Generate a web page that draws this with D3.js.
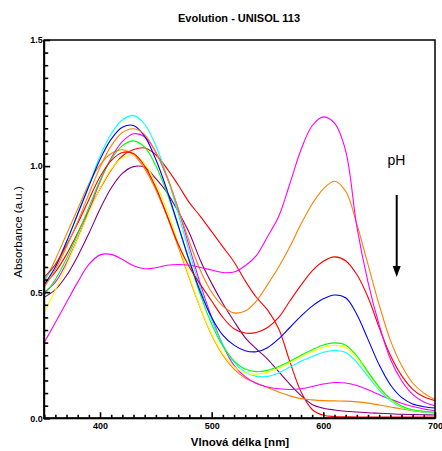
<!DOCTYPE html>
<html>
<head>
<meta charset="utf-8">
<script src="https://cdn.jsdelivr.net/npm/d3@7"></script>
<style>
  html, body { margin: 0; padding: 0; background: #fff; }
  svg { display: block; font-family: "Liberation Sans", Arial, sans-serif; }
</style>
</head>
<body>
<svg id="chart" width="442" height="451"></svg>
<script>
// wavelengths (nm)
const wavelengths = [350, 360, 370, 380, 390, 400, 410, 420, 430, 440, 450, 460, 470, 480, 490, 500, 510, 520,
                     530, 540, 550, 560, 570, 580, 590, 600, 610, 620, 630, 640, 650, 660, 670, 680, 690, 700];

// absorbance, one array per spectrum
const magentaHigh = [0.30, 0.38, 0.46, 0.54, 0.61, 0.648, 0.65, 0.63, 0.605, 0.593, 0.597, 0.607, 0.61, 0.607, 0.598, 0.588, 0.578, 0.58,
                     0.605, 0.645, 0.72, 0.80, 0.93, 1.065, 1.16, 1.195, 1.17, 1.06, 0.76, 0.54, 0.37, 0.235, 0.15, 0.095, 0.065, 0.05];
const orangeHigh = [0.52, 0.59, 0.68, 0.78, 0.89, 0.995, 1.08, 1.133, 1.148, 1.125, 1.055, 0.96, 0.832, 0.70, 0.585, 0.50, 0.445, 0.418,
                    0.425, 0.465, 0.53, 0.60, 0.68, 0.77, 0.85, 0.91, 0.94, 0.90, 0.77, 0.61, 0.45, 0.31, 0.21, 0.14, 0.10, 0.075];
const redMid = [0.56, 0.61, 0.686, 0.773, 0.867, 0.958, 1.022, 1.054, 1.05, 1.0, 0.915, 0.805, 0.69, 0.60, 0.53, 0.465, 0.40, 0.355,
                0.338, 0.34, 0.36, 0.40, 0.465, 0.528, 0.585, 0.623, 0.64, 0.625, 0.57, 0.48, 0.36, 0.25, 0.17, 0.115, 0.085, 0.07];
const blue = [0.53, 0.60, 0.70, 0.81, 0.92, 1.026, 1.107, 1.154, 1.161, 1.118, 1.026, 0.905, 0.765, 0.625, 0.50, 0.40, 0.33, 0.29,
              0.268, 0.264, 0.28, 0.315, 0.36, 0.405, 0.445, 0.474, 0.489, 0.478, 0.412, 0.313, 0.212, 0.133, 0.083, 0.057, 0.046, 0.041];
const green = [0.49, 0.55, 0.633, 0.73, 0.836, 0.943, 1.027, 1.081, 1.10, 1.075, 1.001, 0.893, 0.761, 0.62, 0.488, 0.373, 0.287, 0.228,
               0.195, 0.185, 0.19, 0.205, 0.226, 0.25, 0.272, 0.291, 0.299, 0.29, 0.247, 0.184, 0.124, 0.078, 0.049, 0.034, 0.028, 0.025];
const yellow = [0.42, 0.508, 0.607, 0.709, 0.815, 0.912, 0.988, 1.033, 1.043, 1.01, 0.931, 0.824, 0.694, 0.562, 0.438, 0.334, 0.256, 0.205,
                0.18, 0.175, 0.182, 0.198, 0.22, 0.244, 0.264, 0.281, 0.289, 0.28, 0.238, 0.178, 0.12, 0.075, 0.047, 0.033, 0.027, 0.025];
const cyan = [0.55, 0.61, 0.70, 0.81, 0.924, 1.039, 1.128, 1.183, 1.20, 1.166, 1.081, 0.96, 0.812, 0.659, 0.514, 0.39, 0.292, 0.223,
              0.183, 0.166, 0.166, 0.18, 0.203, 0.226, 0.245, 0.262, 0.269, 0.261, 0.222, 0.166, 0.112, 0.07, 0.044, 0.031, 0.025, 0.023];
const magentaLow = [0.50, 0.54, 0.617, 0.713, 0.823, 0.938, 1.032, 1.097, 1.128, 1.116, 1.055, 0.955, 0.83, 0.68, 0.53, 0.40, 0.29, 0.21,
                    0.165, 0.138, 0.124, 0.117, 0.114, 0.117, 0.126, 0.136, 0.142, 0.14, 0.13, 0.113, 0.094, 0.076, 0.06, 0.047, 0.037, 0.03];
const orangeLow = [0.54, 0.63, 0.73, 0.83, 0.93, 1.005, 1.05, 1.065, 1.045, 0.99, 0.905, 0.80, 0.68, 0.555, 0.435, 0.33, 0.25, 0.195,
                   0.16, 0.14, 0.122, 0.104, 0.089, 0.078, 0.073, 0.07, 0.069, 0.068, 0.065, 0.06, 0.053, 0.045, 0.037, 0.03, 0.025, 0.02];
const purple = [0.48, 0.51, 0.566, 0.643, 0.733, 0.83, 0.913, 0.971, 0.998, 0.995, 0.95, 0.895, 0.82, 0.735, 0.625, 0.535, 0.455, 0.385,
                0.32, 0.275, 0.235, 0.185, 0.135, 0.09, 0.055, 0.04, 0.033, 0.028, 0.025, 0.022, 0.02, 0.018, 0.016, 0.015, 0.014, 0.013];
const redBroad = [0.53, 0.58, 0.65, 0.735, 0.825, 0.91, 0.985, 1.04, 1.066, 1.072, 1.045, 0.99, 0.925, 0.855, 0.80, 0.74, 0.68, 0.62,
                  0.545, 0.48, 0.43, 0.355, 0.225, 0.105, 0.035, 0.012, 0.007, 0.006, 0.005, 0.005, 0.005, 0.005, 0.005, 0.005, 0.005, 0.005];

const spectra = [
    { values: redBroad, color: "#ff0000" },
    { values: purple, color: "#800080" },
    { values: orangeLow, color: "#ff8000" },
    { values: magentaLow, color: "#ff00ff" },
    { values: cyan, color: "#00ffff" },
    { values: yellow, color: "#ffff00" },
    { values: green, color: "#00ff00" },
    { values: blue, color: "#0000ff" },
    { values: redMid, color: "#ff0000" },
    { values: orangeHigh, color: "#ff8000" },
    { values: magentaHigh, color: "#ff00ff" }
];

const xMinorTicks = [350, 360, 370, 380, 390, 410, 420, 430, 440, 450, 460, 470, 480, 490, 510, 520, 530, 540, 550, 560,
                     570, 580, 590, 610, 620, 630, 640, 650, 660, 670, 680, 690];
const xMajorTicks = [400, 500, 600, 700];
const yMinorTicks = [0.05, 0.1, 0.15, 0.2, 0.25, 0.3, 0.35, 0.4, 0.45, 0.55, 0.6, 0.65, 0.7, 0.75, 0.8, 0.85, 0.9, 0.95,
                     1.05, 1.1, 1.15, 1.2, 1.25, 1.3, 1.35, 1.4, 1.45];
const yMajorTicks = [0, 0.5, 1.0, 1.5];

const svg = d3.select("#chart");
const plotLeft = 44.2, plotRight = 435, plotTop = 40, plotBottom = 418.3;

const x = d3.scaleLinear().domain([350, 700]).range([plotLeft, plotRight]);
const y = d3.scaleLinear().domain([0, 1.5]).range([plotBottom, plotTop]);

// title
svg.append("text").attr("x", 239).attr("y", 22).attr("text-anchor", "middle")
    .attr("font-size", "11px").attr("font-weight", "bold").text("Evolution - UNISOL 113");

// spectra
const clip = svg.append("defs").append("clipPath").attr("id", "plotClip");
clip.append("rect").attr("x", plotLeft).attr("y", plotTop).attr("width", plotRight - plotLeft).attr("height", plotBottom - plotTop);

const line = d3.line()
    .x((d, i) => x(wavelengths[i]))
    .y(d => y(d))
    .curve(d3.curveCatmullRom.alpha(0.5));

svg.append("g").attr("clip-path", "url(#plotClip)")
    .selectAll("path").data(spectra).enter().append("path")
    .attr("d", d => line(d.values))
    .attr("fill", "none").attr("stroke", d => d.color).attr("stroke-width", 1.1);

// axes, ticks inside
const gx = svg.append("g").attr("transform", `translate(0,${plotBottom})`);
gx.call(d3.axisBottom(x).tickValues(xMinorTicks).tickSize(-3.5).tickFormat(""));
const gxMajor = svg.append("g").attr("transform", `translate(0,${plotBottom})`);
gxMajor.call(d3.axisBottom(x).tickValues(xMajorTicks).tickSize(-6).tickPadding(4).tickFormat(d3.format("d")));

const gy = svg.append("g").attr("transform", `translate(${plotLeft},0)`);
gy.call(d3.axisLeft(y).tickValues(yMinorTicks).tickSize(-4).tickFormat(""));
const gyMajor = svg.append("g").attr("transform", `translate(${plotLeft},0)`);
gyMajor.call(d3.axisLeft(y).tickValues(yMajorTicks).tickSize(-6).tickPadding(1.5).tickFormat(d3.format(".1f")));

svg.selectAll(".domain").remove();
svg.selectAll(".tick line").attr("stroke", "#000").attr("stroke-width", 1.6);
svg.selectAll(".tick text").attr("font-family", "Liberation Sans, Arial, sans-serif")
    .attr("font-size", "9px").attr("font-weight", "bold").attr("fill", "#000");

// frame
svg.append("rect").attr("x", plotLeft).attr("y", plotTop).attr("width", plotRight - plotLeft).attr("height", plotBottom - plotTop)
    .attr("fill", "none").attr("stroke", "#000").attr("stroke-width", 1.5);
svg.append("path").attr("d", `M${plotLeft},${plotTop}V${plotBottom}H${plotRight}`)
    .attr("fill", "none").attr("stroke", "#000").attr("stroke-width", 2);

// axis titles
svg.append("text").attr("x", 240).attr("y", 446).attr("text-anchor", "middle")
    .attr("font-size", "11.5px").attr("font-weight", "bold").text("Vlnová délka [nm]");
svg.append("text").attr("transform", "translate(22,232) rotate(-90)").attr("text-anchor", "middle")
    .attr("font-size", "11.5px").text("Absorbance (a.u.)");

// pH annotation
svg.append("text").attr("x", 396.5).attr("y", 165).attr("text-anchor", "middle")
    .attr("font-size", "14px").text("pH");
svg.append("line").attr("x1", 396.7).attr("x2", 396.7).attr("y1", 195).attr("y2", 268)
    .attr("stroke", "#000").attr("stroke-width", 2);
svg.append("path").attr("d", "M392.7,266 L400.7,266 L396.7,277 Z").attr("fill", "#000");
</script>
</body>
</html>
